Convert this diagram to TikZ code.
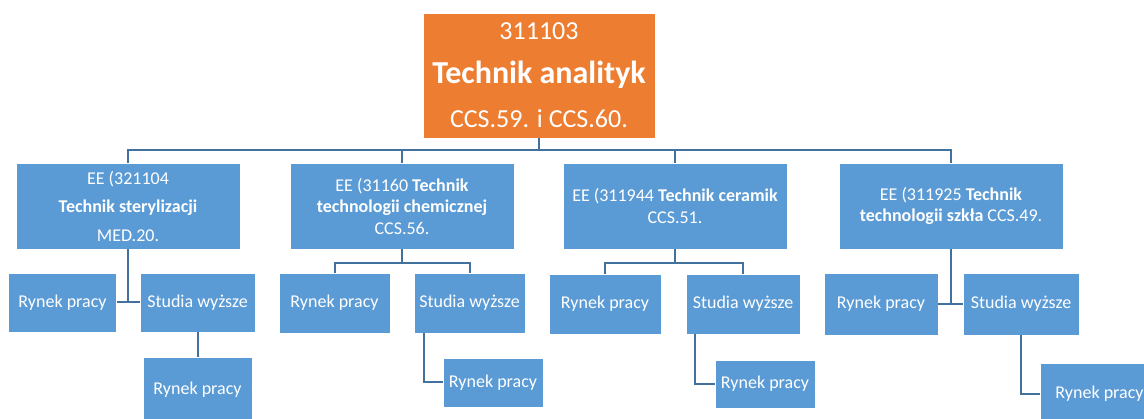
\documentclass[tikz,border=0pt]{standalone}
\usepackage{fontspec}
\setmainfont{Carlito}
\usetikzlibrary{calc}
\definecolor{pomarancz}{HTML}{ED7D31}
\definecolor{niebieski}{HTML}{5B9BD5}
\definecolor{linia}{HTML}{41719C}

\begin{document}
\begin{tikzpicture}[x=1pt,y=-1pt,
    kafel/.style={draw=white,line width=0.8pt,fill=niebieski,text=white,align=center,
        inner sep=0pt,font=\fontsize{18}{21.5}\selectfont},
    wh/.style 2 args={minimum width=#1pt,minimum height=#2pt},
    polacz/.style={draw=linia,line width=2pt}]

		\useasboundingbox (0,0) rectangle (1144,419);

		% zawod glowny
		\node[kafel,fill=pomarancz,wh={232}{125},font=\fontsize{26}{44}\selectfont] (top) at (539,75.5)
			{311103\\{\fontsize{32}{44}\selectfont\bfseries Technik analityk}\\CCS.59. i CCS.60.};

		% kierunki
		\node[kafel,wh={224}{86}] (b1) at (128,206)
			{EE (321104\\[7pt]\textbf{Technik sterylizacji}\\[7pt]MED.20.};
		\node[kafel,wh={224}{86}] (b2) at (402,206)
			{EE (31160 \textbf{Technik}\\\textbf{technologii chemicznej}\\CCS.56.};
		\node[kafel,wh={224}{86}] (b3) at (675,206)
			{EE (311944 \textbf{Technik ceramik}\\CCS.51.};
		\node[kafel,wh={224}{86}] (b4) at (951,206)
			{EE (311925 \textbf{Technik}\\\textbf{technologii szkła} CCS.49.};

		% sciezki
		\node[kafel,wh={108}{59}] (r1) at (62.5,302.5) {Rynek pracy};
		\node[kafel,wh={115}{59}] (s1) at (197.5,302.5) {Studia wyższe};
		\node[kafel,wh={109}{66}] (g1) at (197.5,390) {Rynek pracy};

		\node[kafel,wh={111}{60}] (r2) at (334.5,303) {Rynek pracy};
		\node[kafel,wh={111}{60}] (s2) at (469.5,303) {Studia wyższe};
		\node[kafel,wh={100}{49}] (g2) at (493,382.5) {Rynek pracy};

		\node[kafel,wh={112}{60}] (r3) at (605,304) {Rynek pracy};
		\node[kafel,wh={114}{60}] (s3) at (743,304) {Studia wyższe};
		\node[kafel,wh={100}{48}] (g3) at (765,384) {Rynek pracy};

		\node[kafel,wh={114}{62}] (r4) at (881,304) {Rynek pracy};
		\node[kafel,wh={116}{62}] (s4) at (1021,304) {Studia wyższe};
		\node[kafel,wh={119}{62}] (g4) at (1099.5,394) {Rynek pracy};

		% polaczenia
		\coordinate (szyna) at (539,150);
		\draw[polacz] (top.south) -- (szyna);
		\foreach \k in {b1,b2,b3,b4}
			\draw[polacz] (szyna) -| (\k.north);

		\draw[polacz] (b1.south) -- (b1.south |- r1.east);
		\draw[polacz] (r1.east) -- (s1.west);
		\draw[polacz] (s1.south) -- (g1.north);

		\draw[polacz] (b2.south) -- ++(0,14) coordinate (k2);
		\draw[polacz] (r2.north) |- (k2) -| (s2.north);
		\draw[polacz] ([xshift=-45.5pt]s2.south) |- (g2.west);

		\draw[polacz] (b3.south) -- ++(0,14) coordinate (k3);
		\draw[polacz] (r3.north) |- (k3) -| (s3.north);
		\draw[polacz] ([xshift=-48pt]s3.south) |- (g3.west);

		\draw[polacz] (b4.south) -- (b4.south |- r4.east);
		\draw[polacz] (r4.east) -- (s4.west);
		\draw[polacz] (s4.south) |- (g4.west);
\end{tikzpicture}
\end{document}
